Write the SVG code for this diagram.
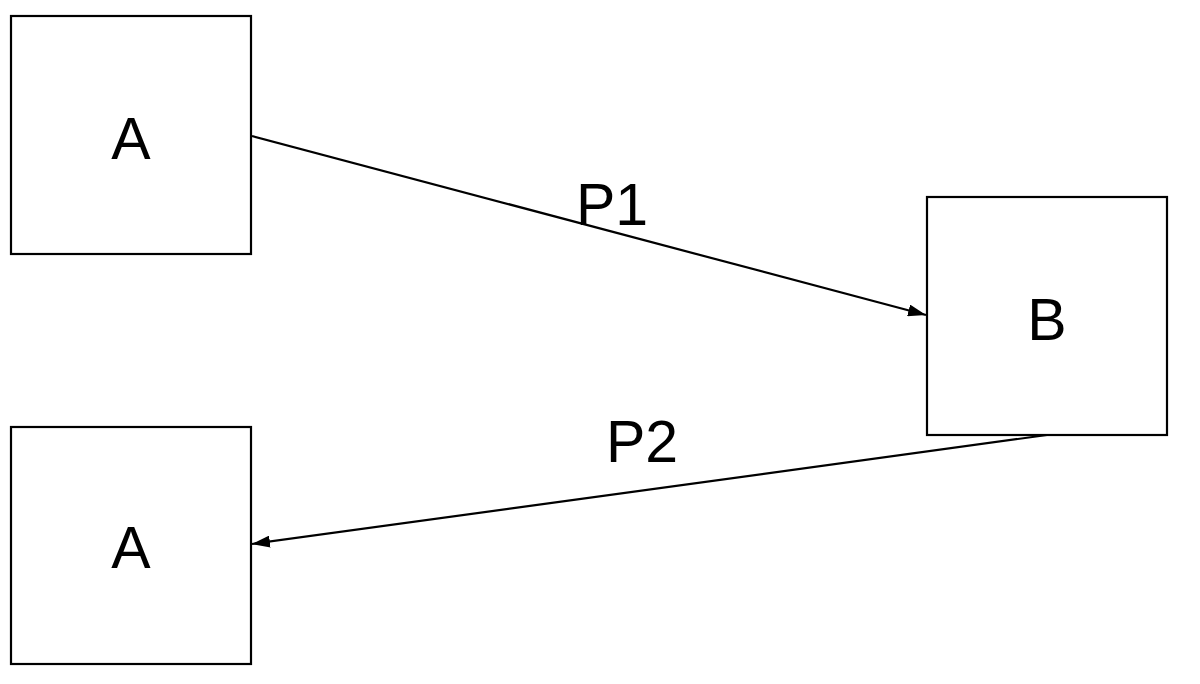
<svg xmlns="http://www.w3.org/2000/svg" width="1200" height="684" viewBox="0 0 1200 684">
<style>
.box{fill:#fff;stroke:#000;stroke-width:2.2}
.lbl{font-family:"Liberation Sans",Arial,sans-serif;font-size:59px;fill:#000;text-anchor:middle}
.edge{stroke:#000;stroke-width:2.2;fill:none;marker-end:url(#arr)}
</style>
<defs>
<marker id="arr" viewBox="0 0 18 12" refX="18" refY="6" markerWidth="18" markerHeight="12" markerUnits="userSpaceOnUse" orient="auto">
<path d="M0,0 L18,6 L0,12 Z" fill="#000"/>
</marker>
</defs>
<rect width="1200" height="684" fill="#fff"/>
<g id="connectors">
<line class="edge" x1="252" y1="136" x2="926" y2="315"/>
<line class="edge" x1="1047" y1="435" x2="252" y2="544"/>
<text class="lbl" x="612" y="225">P1</text>
<text class="lbl" x="642" y="462">P2</text>
</g>
<g id="nodeA1">
<rect class="box" x="11" y="16" width="240" height="238"/>
<text class="lbl" x="131" y="159">A</text>
</g>
<g id="nodeB">
<rect class="box" x="927" y="197" width="240" height="238"/>
<text class="lbl" x="1047" y="340">B</text>
</g>
<g id="nodeA2">
<rect class="box" x="11" y="427" width="240" height="237"/>
<text class="lbl" x="131" y="568">A</text>
</g>
</svg>
